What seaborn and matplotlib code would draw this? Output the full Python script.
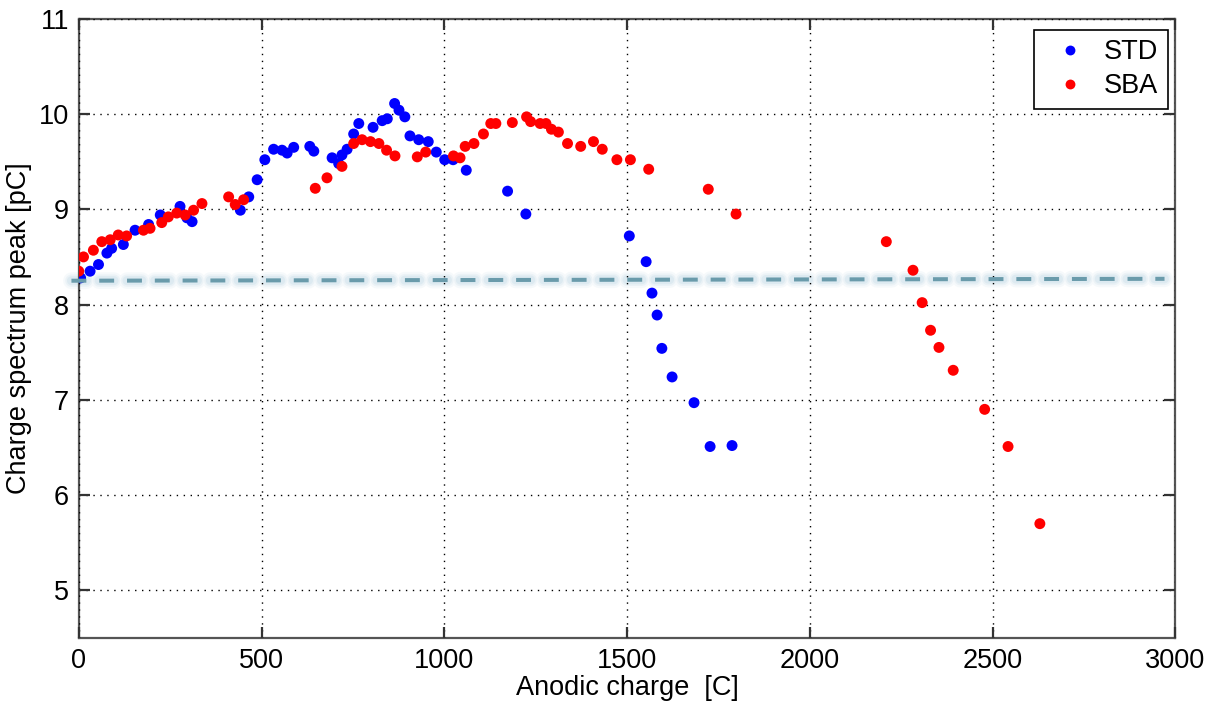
import pandas as pd
import matplotlib
matplotlib.use("Agg")
import matplotlib.pyplot as plt
import seaborn as sns

# STD series (anodic charge [C], charge spectrum peak [pC])
std_x = [5, 31, 54, 77, 90, 122, 154, 191, 223, 277, 296, 310, 442, 465, 488, 509,
         533, 556, 570, 588, 632, 643, 693, 711, 720, 734, 752, 766, 805, 830, 844,
         864, 876, 892, 906, 930, 956, 978, 1001, 1024, 1060, 1173, 1223, 1506,
         1552, 1568, 1582, 1595, 1623, 1683, 1727, 1787]
std_y = [8.28, 8.35, 8.42, 8.54, 8.59, 8.63, 8.78, 8.84, 8.94, 9.03, 8.91, 8.87, 8.99,
         9.13, 9.31, 9.52, 9.63, 9.62, 9.59, 9.65, 9.66, 9.61, 9.54, 9.48, 9.57, 9.63,
         9.79, 9.90, 9.86, 9.93, 9.95, 10.11, 10.04, 9.97, 9.77, 9.73, 9.71, 9.60,
         9.52, 9.52, 9.41, 9.19, 8.95, 8.72, 8.45, 8.12, 7.89, 7.54, 7.24, 6.97,
         6.51, 6.52]

# SBA series
sba_x = [0, 13, 40, 63, 86, 108, 131, 177, 195, 227, 245, 268, 291, 314, 337, 410,
         428, 451, 647, 679, 720, 752, 775, 798, 821, 842, 865, 926, 949, 1025, 1043,
         1057, 1081, 1107, 1127, 1141, 1186, 1225, 1236, 1262, 1278, 1293, 1312,
         1337, 1373, 1408, 1432, 1472, 1509, 1559, 1722, 1798, 2209, 2282, 2307,
         2330, 2353, 2392, 2478, 2542, 2629]
sba_y = [8.35, 8.50, 8.57, 8.66, 8.68, 8.73, 8.72, 8.78, 8.80, 8.86, 8.92, 8.96, 8.94,
         8.99, 9.06, 9.13, 9.05, 9.10, 9.22, 9.33, 9.45, 9.69, 9.73, 9.71, 9.69, 9.62,
         9.56, 9.55, 9.60, 9.56, 9.54, 9.66, 9.69, 9.79, 9.90, 9.90, 9.91, 9.97, 9.92,
         9.90, 9.90, 9.84, 9.81, 9.69, 9.66, 9.71, 9.63, 9.52, 9.52, 9.42, 9.21, 8.95,
         8.66, 8.36, 8.02, 7.73, 7.55, 7.31, 6.90, 6.51, 5.70]

# reference level (dashed line)
ref_x = [-20, 2970]
ref_y = [8.25, 8.27]

df = pd.DataFrame({
    "charge": std_x + sba_x,
    "peak": std_y + sba_y,
    "type": ["STD"] * len(std_x) + ["SBA"] * len(sba_x),
})

sns.set_style("ticks")
plt.rcParams["font.family"] = ["Liberation Sans", "DejaVu Sans"]
plt.rcParams.update({
    "text.color": "black",
    "axes.labelcolor": "black",
    "xtick.direction": "in",
    "ytick.direction": "in",
    "xtick.top": True,
    "ytick.right": True,
    "xtick.major.size": 8,
    "ytick.major.size": 8,
    "xtick.major.width": 1.6,
    "ytick.major.width": 1.6,
    "xtick.color": "#333333",
    "ytick.color": "#333333",
    "xtick.labelcolor": "black",
    "ytick.labelcolor": "black",
})

fig = plt.figure(figsize=(12.06, 7.06), dpi=100)
ax = fig.add_axes([0.0653, 0.0963, 0.9094, 0.8772])

# soft glow under each dash, then the dashed reference line
for lw, a in [(12, 0.10), (9, 0.14), (6.5, 0.2)]:
    ax.plot(ref_x, ref_y, color="#a9cddd", alpha=a, linewidth=lw,
            dashes=(10.7 / lw, 9.3 / lw), dash_capstyle="round",
            zorder=1, clip_on=False)
ax.plot(ref_x, ref_y, color="#6a9bab", linewidth=2.9, dashes=(3.7, 3.2),
        zorder=4, clip_on=False)

sns.scatterplot(data=df, x="charge", y="peak", hue="type",
                palette={"STD": "#0000ff", "SBA": "#ff0000"},
                s=62, edgecolor="none", linewidth=0, ax=ax, zorder=3)

ax.set_xlim(0, 3000)
ax.set_ylim(4.5, 11)
ax.set_xticks(range(0, 3001, 500))
ax.set_yticks(range(5, 12))
ax.set_axisbelow(False)
ax.grid(True, color="black", linestyle=(0, (1, 4)), linewidth=1.0, zorder=0.5)
ax.tick_params(labelsize=19.5, pad=7)
for sp in ax.spines.values():
    sp.set_visible(True)
    sp.set_color("#555555")
    sp.set_linewidth(1.6)

ax.set_xlabel("Anodic charge  [C]", fontsize=19.5, labelpad=1)
ax.set_ylabel("Charge spectrum peak [pC]", fontsize=19.5, labelpad=5)

leg = ax.legend(loc="upper right", fontsize=19.5, frameon=True, fancybox=False,
                borderpad=0.35, handletextpad=0.25, handlelength=2.0,
                labelspacing=0.3, markerscale=0.9, borderaxespad=0,
                bbox_to_anchor=(0.993, 0.982))
leg.get_frame().set_edgecolor("black")
leg.get_frame().set_linewidth(1.2)
leg.get_frame().set_alpha(1)

fig.savefig("out.png", dpi=100)
